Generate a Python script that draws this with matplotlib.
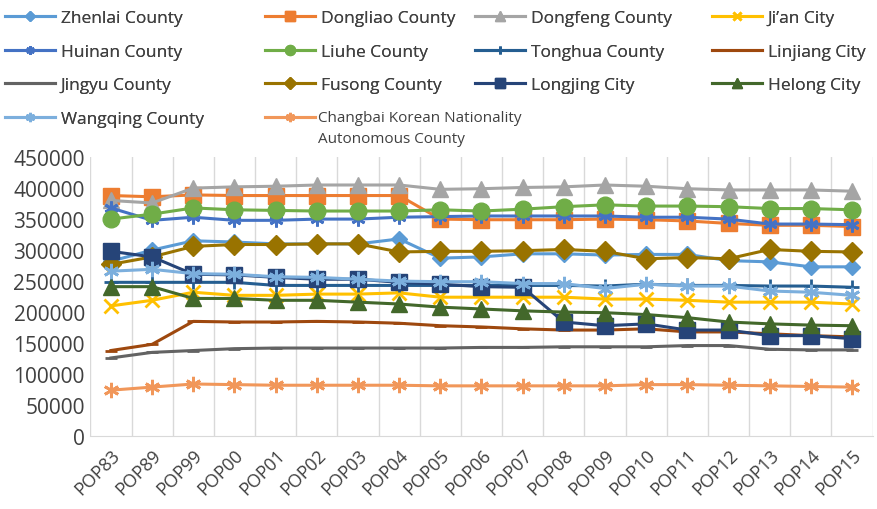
import numpy as np
import matplotlib.pyplot as plt

plt.rcParams['font.family'] = ['Open Sans', 'DejaVu Sans']

years = ["POP83", "POP89", "POP99", "POP00", "POP01", "POP02", "POP03", "POP04", "POP05", "POP06",
         "POP07", "POP08", "POP09", "POP10", "POP11", "POP12", "POP13", "POP14", "POP15"]

zhenlai = [282000, 300000, 315000, 313000, 310000, 310000, 310000, 318000, 287000, 289000,
           294000, 294000, 292000, 293000, 293000, 283000, 281000, 273000, 273000]
dongliao = [388000, 386000, 389000, 388000, 388000, 388000, 388000, 388000, 350000, 349000,
            349000, 349000, 350000, 349000, 347000, 343000, 340000, 340000, 338000]
dongfeng = [380000, 376000, 400000, 402000, 403000, 405000, 405000, 405000, 398000, 399000,
            401000, 402000, 405000, 403000, 399000, 397000, 397000, 397000, 395000]
jian = [210000, 219000, 232000, 227000, 227000, 229000, 229000, 231000, 224000, 224000,
        224000, 224000, 221000, 221000, 219000, 216000, 216000, 216000, 213000]
huinan = [368000, 348000, 353000, 348000, 348000, 350000, 350000, 353000, 354000, 355000,
          355000, 355000, 355000, 353000, 353000, 350000, 342000, 342000, 341000]
liuhe = [350000, 358000, 368000, 365000, 364000, 363000, 363000, 363000, 365000, 363000,
         366000, 370000, 373000, 371000, 371000, 370000, 367000, 367000, 365000]
tonghua = [248000, 248000, 248000, 248000, 243000, 243000, 243000, 243000, 243000, 243000,
           243000, 243000, 242000, 245000, 243000, 243000, 242000, 242000, 240000]
linjiang = [138000, 148000, 185000, 184000, 184000, 185000, 184000, 182000, 178000, 176000,
            173000, 171000, 171000, 173000, 168000, 168000, 165000, 162000, 160000]
jingyu = [126000, 135000, 138000, 141000, 142000, 142000, 142000, 142000, 142000, 143000,
          143000, 144000, 144000, 144000, 146000, 146000, 140000, 139000, 139000]
fusong = [277000, 289000, 306000, 309000, 309000, 310000, 310000, 297000, 298000, 298000,
          299000, 301000, 298000, 286000, 288000, 286000, 301000, 298000, 297000]
longjing = [298000, 289000, 261000, 260000, 256000, 253000, 253000, 248000, 245000, 241000,
            240000, 184000, 178000, 181000, 171000, 171000, 162000, 162000, 157000]
helong = [241000, 241000, 222000, 222000, 219000, 219000, 216000, 213000, 208000, 205000,
          202000, 200000, 199000, 196000, 191000, 184000, 181000, 179000, 178000]
wangqing = [266000, 269000, 262000, 261000, 257000, 256000, 253000, 250000, 249000, 249000,
            246000, 246000, 238000, 245000, 242000, 242000, 234000, 232000, 227000]
changbai = [74000, 79000, 84000, 83000, 82000, 82000, 82000, 82000, 81000, 81000,
            81000, 81000, 81000, 83000, 83000, 82000, 81000, 80000, 79000]

changbai_name = "Changbai Korean Nationality\nAutonomous County"

asterisk = (6, 2, 0)
series = [
    ("Zhenlai County", zhenlai, "#5B9BD5", "D", 8),
    ("Dongliao County", dongliao, "#ED7D31", "s", 11),
    ("Dongfeng County", dongfeng, "#A5A5A5", "^", 11),
    ("Ji\u2019an City", jian, "#FFC000", "x", 10),
    ("Huinan County", huinan, "#4472C4", asterisk, 10),
    ("Liuhe County", liuhe, "#70AD47", "o", 12),
    ("Tonghua County", tonghua, "#255E91", "+", 10),
    ("Linjiang City", linjiang, "#9E480E", "_", 9),
    ("Jingyu County", jingyu, "#636363", "_", 9),
    ("Fusong County", fusong, "#997300", "D", 10),
    ("Longjing City", longjing, "#264478", "s", 12),
    ("Helong City", helong, "#43682B", "^", 11),
    ("Wangqing County", wangqing, "#7CAFDD", asterisk, 11),
    (changbai_name, changbai, "#F1975A", asterisk, 11),
]

fig = plt.figure(figsize=(8.77, 5.1), dpi=100)
ax = fig.add_axes([0.103, 0.143, 0.892, 0.547])

x = np.arange(len(years))
handles = []
for name, vals, col, mk, ms in series:
    h, = ax.plot(x, vals, color=col, lw=2.2, marker=mk, markersize=ms,
                 markeredgewidth=2 if mk in ("x", "+", "_", asterisk) else 1,
                 markerfacecolor=col, markeredgecolor=col, label=name)
    handles.append(h)

ax.set_xlim(-0.5, len(years) - 0.5)
ax.set_ylim(0, 450000)
ax.set_yticks(np.arange(0, 450001, 50000))
ax.set_xticks(x)
ax.set_xticklabels(years, rotation=45, ha="right", rotation_mode="anchor")
ax.set_xticks(np.arange(-0.5, len(years)), minor=True)
ax.grid(axis="x", which="minor", color="#D9D9D9", lw=1)
ax.tick_params(axis="x", which="both", length=0, labelsize=13, labelcolor="#404040", pad=7)
ax.tick_params(axis="y", length=0, labelsize=15, labelcolor="#404040", pad=4)
for s in ["top", "right", "left"]:
    ax.spines[s].set_visible(False)
ax.spines["bottom"].set_color("#D9D9D9")

# legend laid out row by row like Excel: one legend per column
col_x = [5, 265, 475, 712]
for c in range(4):
    idx = list(range(c, len(series), 4))
    hs = [handles[i] for i in idx]
    labels = [" " if series[i][0] == changbai_name else series[i][0] for i in idx]
    leg = fig.legend(hs, labels, loc="upper left", bbox_to_anchor=(col_x[c] / 877, 1 - 11 / 510),
                     frameon=False, fontsize=12.5, handlelength=2.9, handletextpad=0.3,
                     labelspacing=1.0, markerscale=0.6, labelcolor="#404040",
                     borderpad=0, borderaxespad=0)
    fig.add_artist(leg)

fig.text(318 / 877, 1 - 111 / 510, changbai_name, fontsize=11, color="#404040",
         va="top", ha="left", linespacing=1.55)

fig.savefig("out.png", dpi=100)
